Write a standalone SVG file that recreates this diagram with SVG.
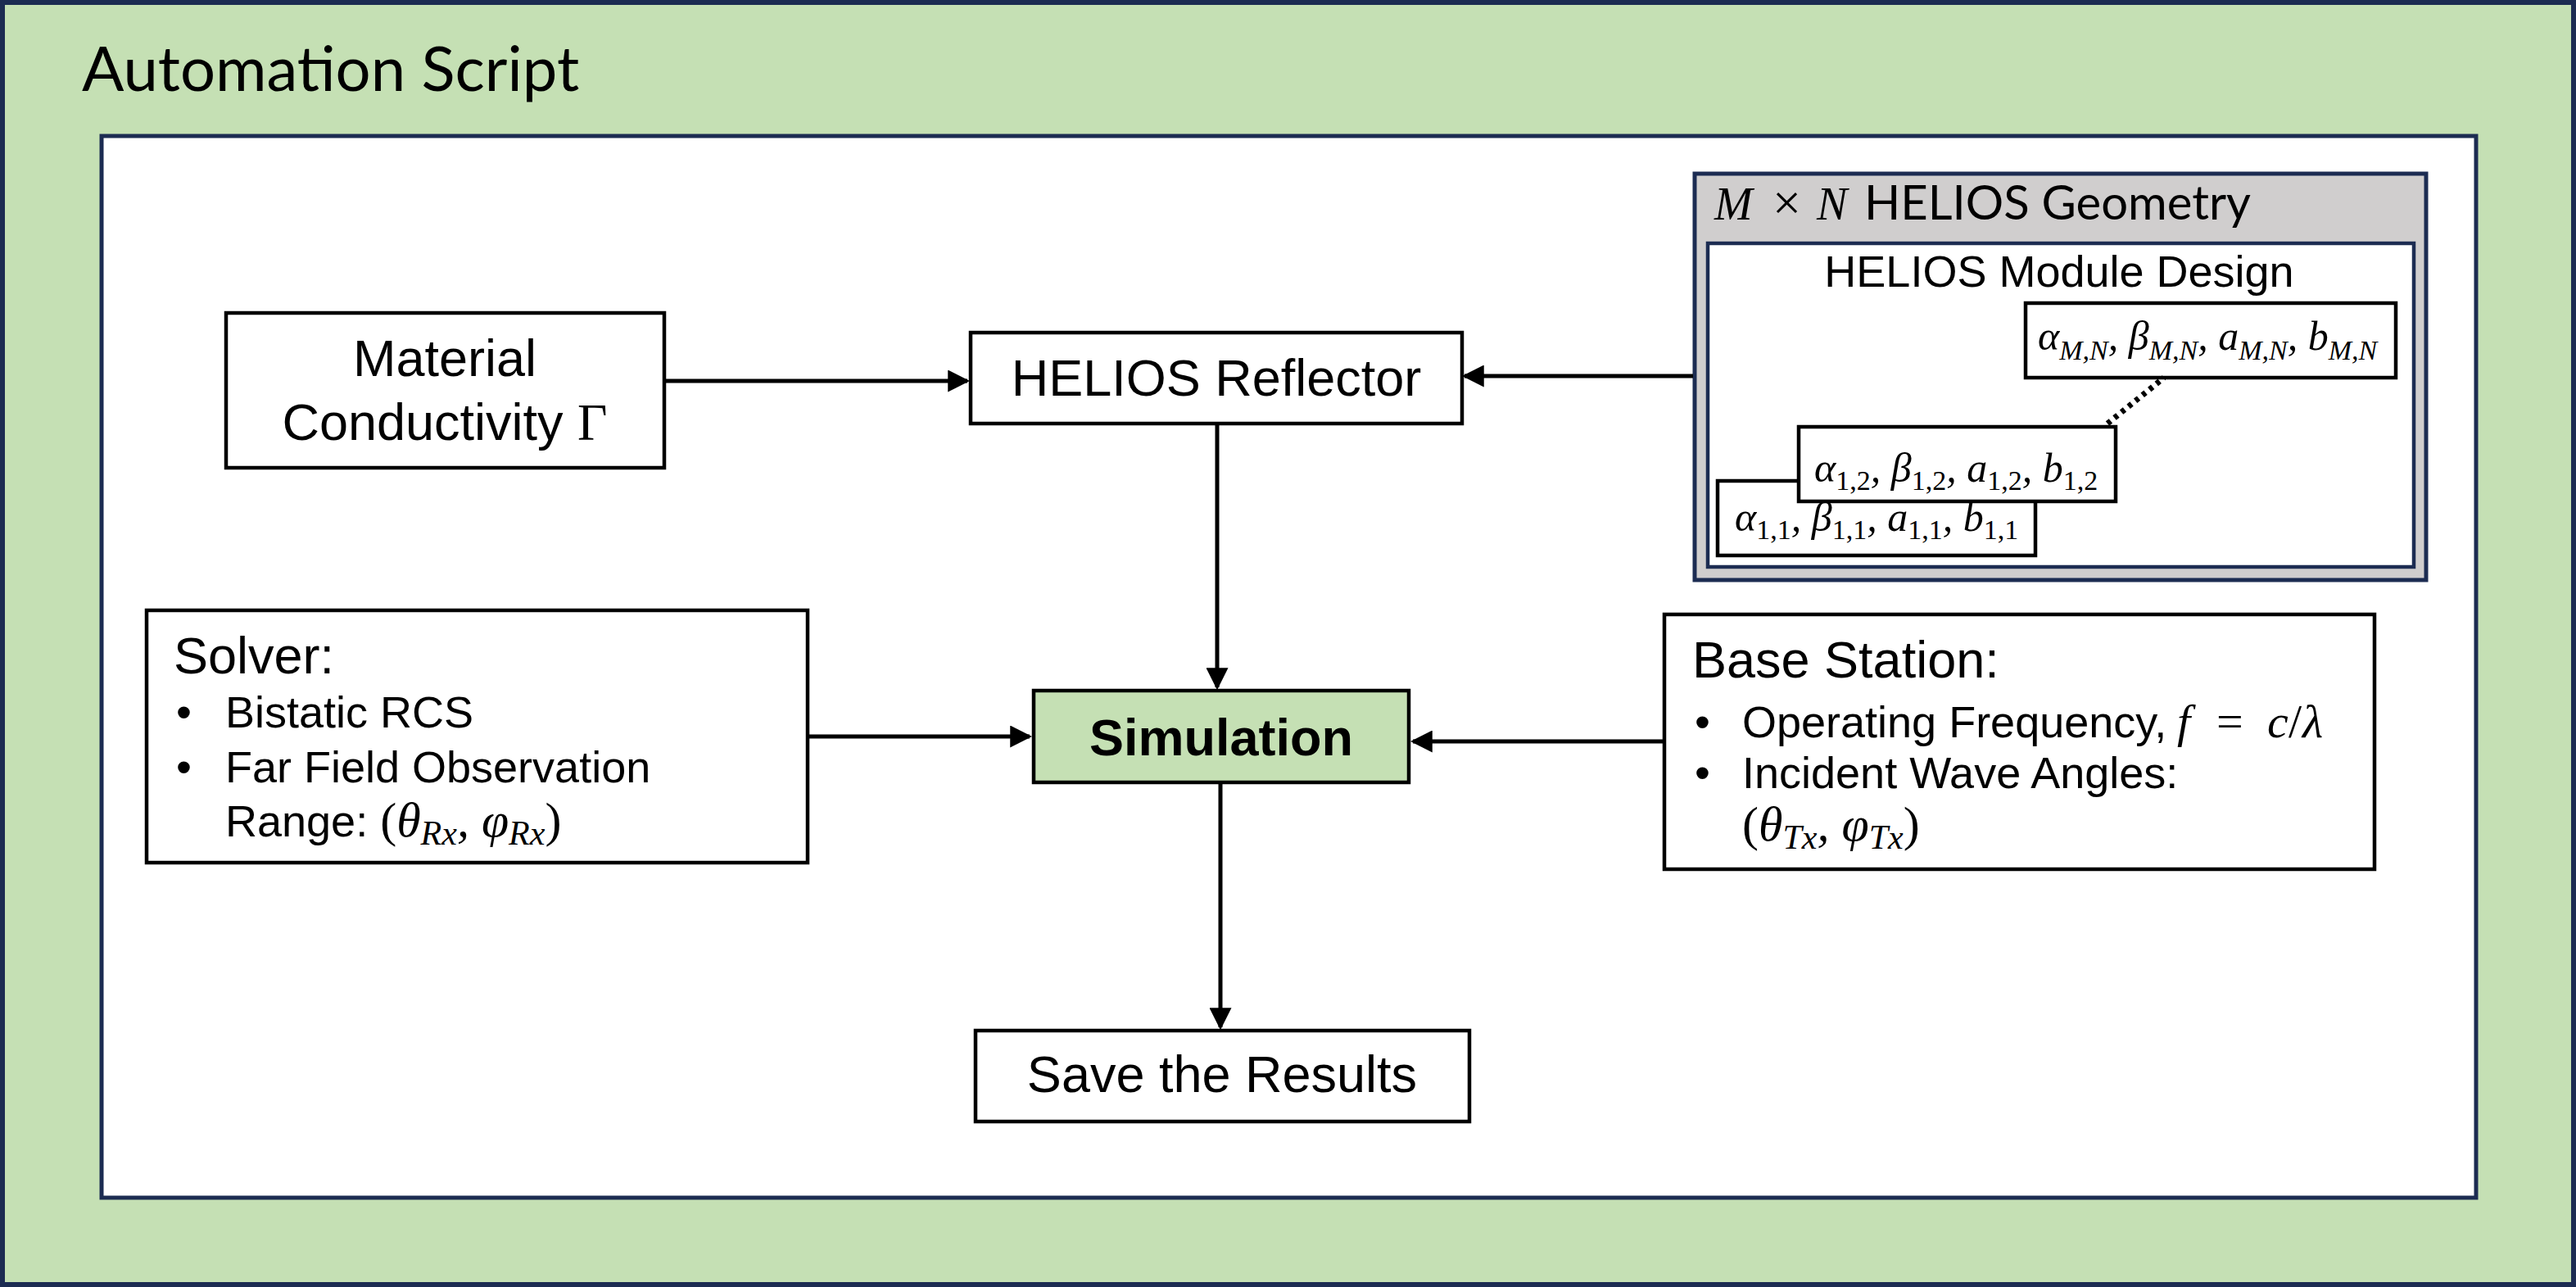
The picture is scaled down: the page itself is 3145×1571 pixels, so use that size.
<svg xmlns="http://www.w3.org/2000/svg" width="3145" height="1571" viewBox="0 0 3145 1571">
<style>
  .box { fill: #ffffff; stroke: #000000; stroke-width: 4.5; }
  .conn { fill: none; stroke: #000000; stroke-width: 5; }
  .ar { font-family: "Liberation Sans", Arial, sans-serif; fill: #000; }
  .cal { font-family: Lato, "Open Sans", sans-serif; fill: #000; }
  .m { font-family: "Liberation Serif", "Times New Roman", serif; font-style: italic; fill: #000; }
  .up { font-style: normal; }
  .t63 { font-size: 63px; }
  .t54 { font-size: 54px; }
</style>
<defs>
  <marker id="arrow" markerUnits="userSpaceOnUse" markerWidth="27" markerHeight="27" viewBox="0 0 10 10" refX="8.8" refY="5" orient="auto">
    <path d="M0,0 L10,5 L0,10 z" fill="#000"/>
  </marker>
</defs>

<g id="automation-script">
  <rect x="3" y="3" width="3139" height="1565" fill="#c5e0b4" stroke="#1c2c52" stroke-width="6"/>
  <text x="100" y="111" class="cal" font-size="76">Automation Script</text>
  <rect x="124" y="166" width="2899" height="1296" fill="#ffffff" stroke="#1c2c52" stroke-width="5"/>
</g>

<g id="material">
  <rect class="box" x="276" y="382" width="535" height="189"/>
  <text class="ar t63" x="543" y="459" text-anchor="middle">Material</text>
  <text class="ar t63" x="543" y="537" text-anchor="middle">Conductivity <tspan font-family="Liberation Serif, serif">Γ</tspan></text>
</g>

<g id="reflector">
  <rect class="box" x="1185" y="406" width="600" height="111"/>
  <text class="ar t63" x="1485" y="483" text-anchor="middle">HELIOS Reflector</text>
</g>

<g id="geometry">
  <rect x="2069" y="212" width="893" height="496" fill="#d0cece" stroke="#1c2c52" stroke-width="5"/>
  <text class="m" font-size="56" y="268"><tspan x="2093">M</tspan><tspan x="2164" class="up" font-size="62">×</tspan><tspan x="2218">N</tspan></text>
  <text class="cal" font-size="58" x="2276" y="268">HELIOS Geometry</text>
  <g id="module-design">
    <rect x="2085" y="297" width="862" height="395" fill="#ffffff" stroke="#1c2c52" stroke-width="4.5"/>
    <text class="ar t54" x="2514" y="350" text-anchor="middle">HELIOS Module Design</text>
  </g>
</g>

<g id="module-mn">
  <rect class="box" x="2473" y="370" width="452" height="91"/>
  <text class="m" font-size="50" x="2488" y="427">α<tspan font-size="34" dy="12">M,N</tspan><tspan dy="-12">, β</tspan><tspan font-size="34" dy="12">M,N</tspan><tspan dy="-12">, a</tspan><tspan font-size="34" dy="12">M,N</tspan><tspan dy="-12">, b</tspan><tspan font-size="34" dy="12">M,N</tspan></text>
</g>

<g id="module-11">
  <rect class="box" x="2097" y="587" width="388" height="91"/>
  <text class="m" font-size="50" x="2118" y="648">α<tspan class="up" font-size="34" dy="10">1,1</tspan><tspan dy="-10">, β</tspan><tspan class="up" font-size="34" dy="10">1,1</tspan><tspan dy="-10">, a</tspan><tspan class="up" font-size="34" dy="10">1,1</tspan><tspan dy="-10">, b</tspan><tspan class="up" font-size="34" dy="10">1,1</tspan></text>
</g>

<g id="module-12">
  <rect class="box" x="2196" y="521" width="387" height="91"/>
  <text class="m" font-size="50" x="2215" y="588">α<tspan class="up" font-size="34" dy="10">1,2</tspan><tspan dy="-10">, β</tspan><tspan class="up" font-size="34" dy="10">1,2</tspan><tspan dy="-10">, a</tspan><tspan class="up" font-size="34" dy="10">1,2</tspan><tspan dy="-10">, b</tspan><tspan class="up" font-size="34" dy="10">1,2</tspan></text>
</g>

<g id="solver">
  <rect class="box" x="179" y="745" width="807" height="308"/>
  <text class="ar t63" x="212" y="822">Solver:</text>
  <text class="ar t54" x="215" y="888">•</text>
  <text class="ar t54" x="275" y="888">Bistatic RCS</text>
  <text class="ar t54" x="215" y="955">•</text>
  <text class="ar t54" x="275" y="955">Far Field Observation</text>
  <text class="ar t54" x="275" y="1021">Range: <tspan class="m up" font-size="60">(</tspan><tspan class="m" font-size="60">θ</tspan><tspan class="m" font-size="42" dy="10">Rx</tspan><tspan class="m" font-size="60" dy="-10">, φ</tspan><tspan class="m" font-size="42" dy="10">Rx</tspan><tspan class="m up" font-size="60" dy="-10">)</tspan></text>
</g>

<g id="simulation">
  <rect x="1262" y="843" width="458" height="112" fill="#c5e0b4" stroke="#000" stroke-width="4.5"/>
  <text class="ar t63" x="1491" y="922" text-anchor="middle" font-weight="bold">Simulation</text>
</g>

<g id="base-station">
  <rect class="box" x="2032" y="750" width="867" height="311"/>
  <text class="ar t63" x="2066" y="827">Base Station:</text>
  <text class="ar t54" x="2069" y="900">•</text>
  <text class="ar t54" x="2127" y="900">Operating Frequency,</text>
  <text class="m" font-size="58" y="900"><tspan x="2658">f</tspan><tspan class="up" x="2706">=</tspan><tspan x="2768">c</tspan><tspan class="up" x="2794">/</tspan><tspan x="2811">λ</tspan></text>
  <text class="ar t54" x="2069" y="962">•</text>
  <text class="ar t54" x="2127" y="962">Incident Wave Angles:</text>
  <text class="m" font-size="60" x="2127" y="1026"><tspan class="up">(</tspan>θ<tspan font-size="42" dy="10">Tx</tspan><tspan dy="-10">, φ</tspan><tspan font-size="42" dy="10">Tx</tspan><tspan class="up" dy="-10">)</tspan></text>
</g>

<g id="save">
  <rect class="box" x="1191" y="1258" width="603" height="111"/>
  <text class="ar t63" x="1492" y="1333" text-anchor="middle">Save the Results</text>
</g>

<g id="connectors">
  <path class="conn" d="M811,465 H1181" marker-end="url(#arrow)"/>
  <path class="conn" d="M2067,459 H1788" marker-end="url(#arrow)"/>
  <path class="conn" d="M1486,517 V839" marker-end="url(#arrow)"/>
  <path class="conn" d="M986,899 H1257" marker-end="url(#arrow)"/>
  <path class="conn" d="M2032,905 H1725" marker-end="url(#arrow)"/>
  <path class="conn" d="M1490,955 V1254" marker-end="url(#arrow)"/>
  <path d="M2573,517 L2642,461" fill="none" stroke="#000" stroke-width="7" stroke-dasharray="5 6"/>
</g>
</svg>
